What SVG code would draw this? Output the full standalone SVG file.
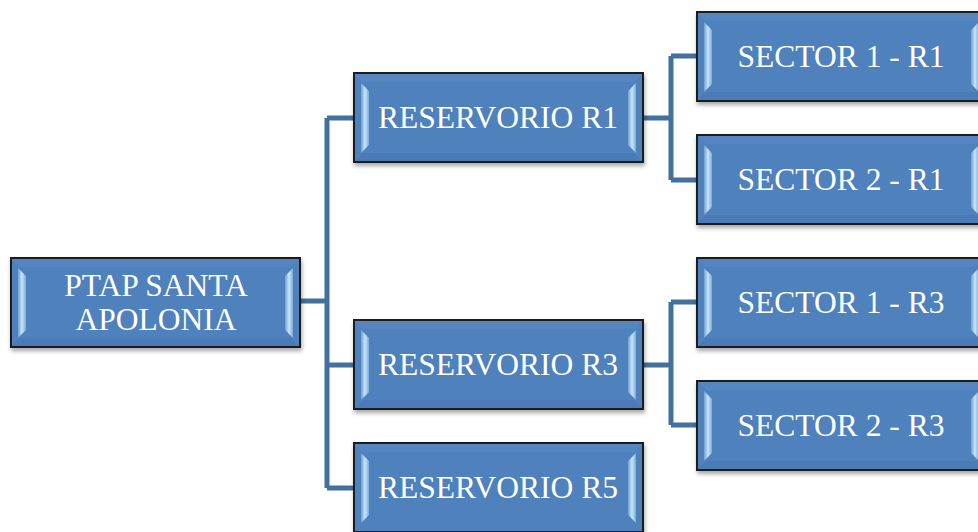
<svg xmlns="http://www.w3.org/2000/svg" width="978" height="532" viewBox="0 0 978 532">
<defs>
<linearGradient id="lg" x1="0" y1="0" x2="1" y2="0"><stop offset="0" stop-color="#6f9fd2"/><stop offset="0.5" stop-color="#c9e6fb"/><stop offset="1" stop-color="#7aaad9"/></linearGradient>
<filter id="sh" x="-10%" y="-10%" width="120%" height="130%"><feDropShadow dx="1" dy="3" stdDeviation="2" flood-color="#000" flood-opacity="0.35"/></filter>
</defs>
<style>
.box{fill:#4f81bd;stroke:#1a1a1a;stroke-width:2;filter:url(#sh)}
.top{fill:#5686c1}
.bot{fill:#4a7bb6}
.side{fill:url(#lg)}
.t{font-family:"Liberation Serif","Times New Roman",serif;font-size:31.5px;fill:#fff;text-anchor:middle}
.c{fill:none;stroke:#41719c;stroke-width:5;stroke-linejoin:miter}
</style>
<g id="connectors">
<path class="c" d="M300 301H327M327 118V488M327 118H354M327 365H354M327 488H354"/>
<path class="c" d="M643 118H671M671 56V180M671 56H697M671 180H697"/>
<path class="c" d="M643 365H671M671 302V425M671 302H697M671 425H697"/>
</g>
<g id="ptap">
<rect class="box" x="11" y="258" width="289" height="89"/>
<path class="top" d="M12 259H299L291 267H20Z"/>
<path class="bot" d="M12 346H299L291 338H20Z"/>
<path class="side" d="M18 268L26 276V330L18 338Z"/>
<path class="side" d="M293 268L285 276V330L293 338Z"/>
<text class="t" x="156" y="296">PTAP SANTA</text>
<text class="t" x="156" y="330">APOLONIA</text>
</g>
<g id="r1">
<rect class="box" x="354" y="73" width="289" height="89"/>
<path class="top" d="M355 74H642L634 82H363Z"/>
<path class="bot" d="M355 161H642L634 153H363Z"/>
<path class="side" d="M361 83L369 91V145L361 153Z"/>
<path class="side" d="M636 83L628 91V145L636 153Z"/>
<text class="t" x="498" y="128">RESERVORIO R1</text>
</g>
<g id="r3">
<rect class="box" x="354" y="320" width="289" height="89"/>
<path class="top" d="M355 321H642L634 329H363Z"/>
<path class="bot" d="M355 408H642L634 400H363Z"/>
<path class="side" d="M361 330L369 338V392L361 400Z"/>
<path class="side" d="M636 330L628 338V392L636 400Z"/>
<text class="t" x="498" y="375">RESERVORIO R3</text>
</g>
<g id="r5">
<rect class="box" x="354" y="443" width="289" height="89"/>
<path class="top" d="M355 444H642L634 452H363Z"/>
<path class="side" d="M361 453L369 461V515L361 523Z"/>
<path class="side" d="M636 453L628 461V515L636 523Z"/>
<text class="t" x="498" y="498">RESERVORIO R5</text>
</g>
<g id="s1r1">
<rect class="box" x="697" y="12" width="289" height="89"/>
<path class="top" d="M698 13H985L977 21H706Z"/>
<path class="bot" d="M698 100H985L977 92H706Z"/>
<path class="side" d="M704 22L712 30V84L704 92Z"/>
<path class="side" d="M979 22L971 30V84L979 92Z"/>
<text class="t" x="841" y="67">SECTOR 1 - R1</text>
</g>
<g id="s2r1">
<rect class="box" x="697" y="135" width="289" height="89"/>
<path class="top" d="M698 136H985L977 144H706Z"/>
<path class="bot" d="M698 223H985L977 215H706Z"/>
<path class="side" d="M704 145L712 153V207L704 215Z"/>
<path class="side" d="M979 145L971 153V207L979 215Z"/>
<text class="t" x="841" y="190">SECTOR 2 - R1</text>
</g>
<g id="s1r3">
<rect class="box" x="697" y="258" width="289" height="89"/>
<path class="top" d="M698 259H985L977 267H706Z"/>
<path class="bot" d="M698 346H985L977 338H706Z"/>
<path class="side" d="M704 268L712 276V330L704 338Z"/>
<path class="side" d="M979 268L971 276V330L979 338Z"/>
<text class="t" x="841" y="313">SECTOR 1 - R3</text>
</g>
<g id="s2r3">
<rect class="box" x="697" y="381" width="289" height="89"/>
<path class="top" d="M698 382H985L977 390H706Z"/>
<path class="bot" d="M698 469H985L977 461H706Z"/>
<path class="side" d="M704 391L712 399V453L704 461Z"/>
<path class="side" d="M979 391L971 399V453L979 461Z"/>
<text class="t" x="841" y="436">SECTOR 2 - R3</text>
</g>
</svg>
